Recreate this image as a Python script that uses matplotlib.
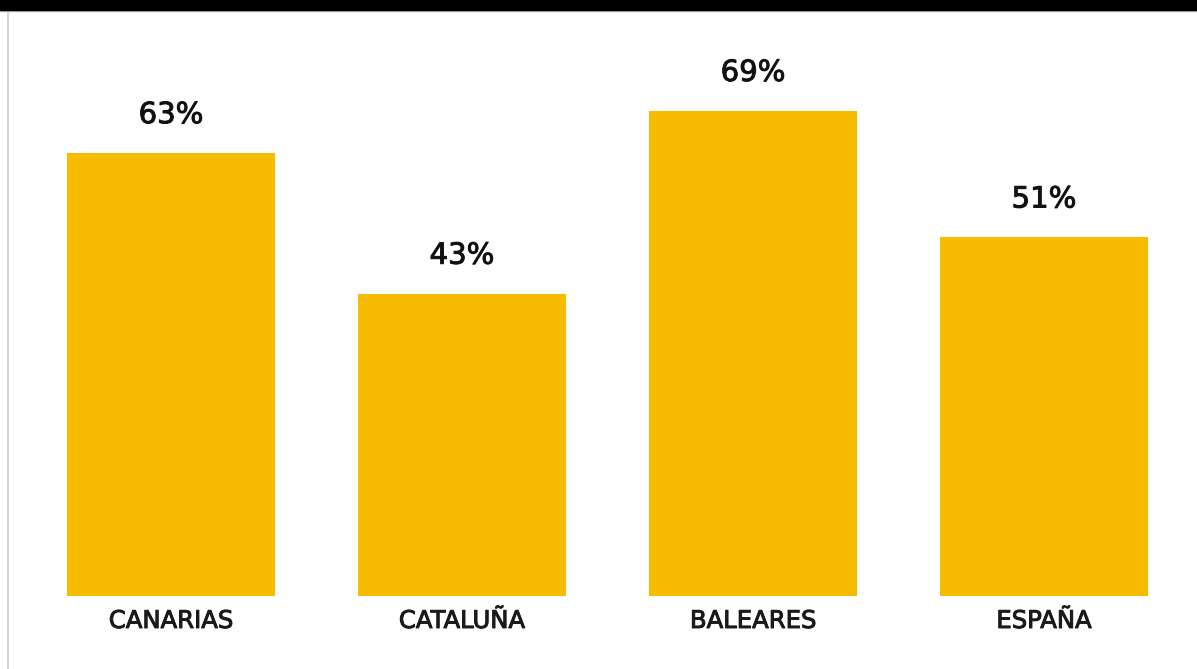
import matplotlib
matplotlib.use("Agg")
from matplotlib import pyplot as plt
from matplotlib.patches import Rectangle
from matplotlib.lines import Line2D
import matplotlib.patheffects as pe

regiones = ["CANARIAS", "CATALUÑA", "BALEARES", "ESPAÑA"]
porcentajes = [63, 43, 69, 51]
etiquetas = ["63%", "43%", "69%", "51%"]

W, H = 1197, 669
PX = 7.03  # pixels per percentage point
fig = plt.figure(figsize=(W / 100, H / 100), dpi=100)
fig.patch.set_facecolor("white")

# axes fill the whole figure; limits chosen so the bars land where they should
ax = fig.add_axes([0, 0, 1, 1])
ax.set_xlim(-171 / 291, (W - 171) / 291)
ax.set_ylim(-73 / PX, 596 / PX)
ax.axis("off")

pos = range(len(regiones))
ax.bar(pos, porcentajes, width=0.715, color="#F7BC00", zorder=2)

grueso = [pe.withStroke(linewidth=0.7, foreground="#151515")]
for i, v in enumerate(porcentajes):
    ax.text(i, v + 5.4, etiquetas[i], ha="center", va="center",
            fontsize=21, family="DejaVu Sans", color="#111111",
            path_effects=grueso)
    ax.text(i, -3.55, regiones[i], ha="center", va="center",
            fontsize=17.5, family="DejaVu Sans", color="#1a1a1a",
            path_effects=grueso)

# black band on top and thin grey frame lines
fig.patches.append(Rectangle((0, 1 - 10 / H), 1, 10 / H, transform=fig.transFigure,
                             color="black", zorder=5))
fig.lines.append(Line2D([0, 1], [1 - 10.5 / H] * 2, transform=fig.transFigure,
                        color="#bbbbbb", lw=1))
fig.lines.append(Line2D([8 / W] * 2, [0, 1 - 10 / H], transform=fig.transFigure,
                        color="#cccccc", lw=1.2))

fig.savefig("out.png", dpi=100)
